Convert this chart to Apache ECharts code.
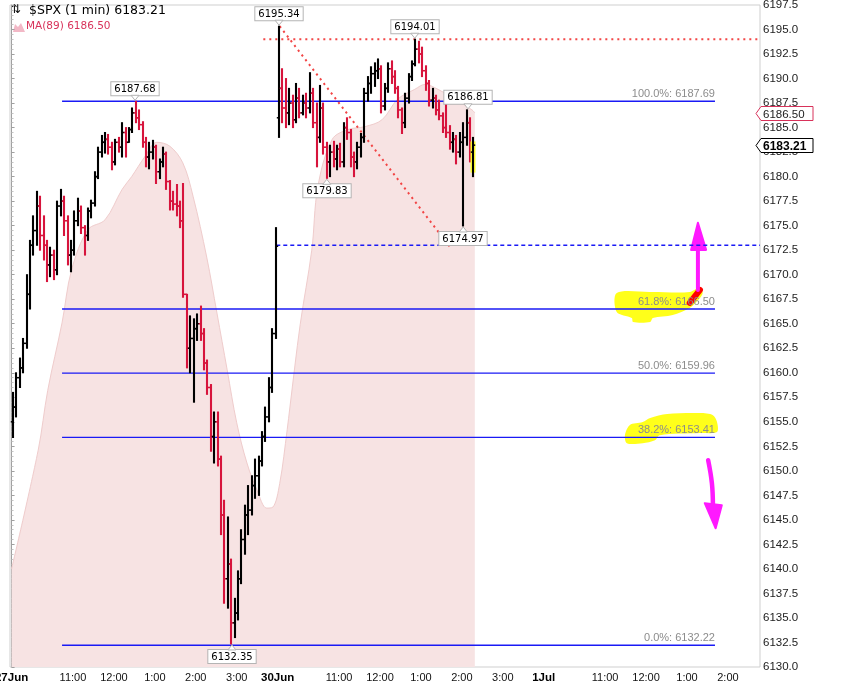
<!DOCTYPE html>
<html>
<head>
<meta charset="utf-8" />
<title>$SPX (1 min)</title>
<script src="https://cdn.jsdelivr.net/npm/echarts@6/dist/echarts.min.js"></script>
<style>
  html, body { margin: 0; padding: 0; background: #fff; }
  #main { width: 844px; height: 689px; }
</style>
</head>
<body>
<div id="main"></div>
<script>
// x is minutes since 27 Jun 9:30 (trading minutes only, 390 per day)
// bars: 5 minute OHLC, [open, high, low, close]
var jun27Start = 0;
var jun27Bars = [
  [6155, 6158, 6153.4, 6156.5], [6156.5, 6160, 6155.5, 6159.5], [6159.5, 6161.5, 6158.5, 6160.5],
  [6160.5, 6163.5, 6160, 6163], [6163, 6170, 6162.5, 6168], [6168, 6173.5, 6166.5, 6173],
  [6173, 6176, 6172, 6174.5], [6174.5, 6178.5, 6173, 6177], [6177, 6178, 6172.5, 6174],
  [6174, 6176, 6171.5, 6173], [6173, 6173.5, 6169.3, 6171], [6171, 6172.8, 6169.8, 6172],
  [6172, 6172.5, 6169.5, 6170.5], [6170.5, 6177.5, 6170, 6177], [6177, 6178.7, 6176, 6177.5],
  [6177.5, 6178, 6174, 6175.5], [6175.5, 6176, 6171, 6172], [6172, 6173.5, 6170.3, 6172.5],
  [6172.5, 6176.5, 6172, 6175.5], [6175.5, 6177.8, 6175, 6176.5], [6176.5, 6177, 6174.2, 6174.8],
  [6174.8, 6175, 6172, 6174], [6174, 6176.8, 6173.5, 6176.5], [6176.5, 6177.6, 6175.8, 6177.3],
  [6177.3, 6180.5, 6177, 6180], [6180, 6183, 6179.8, 6182.5], [6182.5, 6184.2, 6182, 6183.5],
  [6183.5, 6184.5, 6182.4, 6183.8], [6183.8, 6184.3, 6182.3, 6183], [6183, 6183.5, 6180.7, 6181.5],
  [6181.5, 6183.8, 6181.2, 6183.5], [6183.5, 6184, 6182.5, 6183], [6183, 6185.5, 6182, 6184.5],
  [6184.5, 6185, 6182, 6183.5], [6183.5, 6185, 6183.5, 6184.8], [6184.8, 6187, 6184.5, 6186.5],
  [6186.5, 6187.68, 6185.5, 6186], [6186, 6186.8, 6184.8, 6185.3], [6185.3, 6185.6, 6183, 6183.5],
  [6183.5, 6184, 6181, 6182], [6182, 6183.5, 6180.8, 6182.5], [6182.5, 6183.7, 6181.8, 6183],
  [6183, 6183.2, 6179.3, 6180.5], [6180.5, 6181.8, 6179.8, 6181.5], [6181.5, 6183, 6181, 6182.3],
  [6182.3, 6182.5, 6178.7, 6179.5], [6179.5, 6179.6, 6176.6, 6177.5], [6177.5, 6178.5, 6176.6, 6177.2],
  [6177.2, 6179.2, 6176, 6177], [6177, 6177.5, 6174.8, 6175.5], [6175.5, 6179.3, 6167.7, 6168],
  [6168, 6168, 6160.5, 6162.5], [6162.5, 6165.8, 6160, 6163.5], [6163.5, 6165.5, 6157, 6164.5],
  [6164.5, 6166, 6163.3, 6165], [6165, 6166.8, 6163.3, 6164], [6164, 6164.5, 6160.3, 6161],
  [6161, 6161.3, 6157.8, 6158.5], [6158.5, 6158.8, 6152, 6153.5], [6153.5, 6156, 6150.8, 6155],
  [6155, 6156, 6150.5, 6151.2], [6151.2, 6151.5, 6143.5, 6145.5], [6145.5, 6147, 6136.5, 6139],
  [6139, 6145.3, 6136, 6140.5], [6140.5, 6141, 6132.35, 6134.5], [6134.5, 6137, 6133, 6135.5],
  [6135.5, 6139.8, 6134.8, 6139], [6139, 6144, 6138.5, 6143], [6143, 6146.5, 6141.5, 6145.5],
  [6145.5, 6148.5, 6143.5, 6146], [6146, 6149.5, 6145.5, 6148.5], [6148.5, 6151.2, 6147.2, 6149.5],
  [6149.5, 6151.5, 6147.5, 6151], [6151, 6154, 6150.5, 6153.5], [6153.5, 6156.5, 6153, 6155.5],
  [6155.5, 6159.5, 6155, 6158.5], [6158.5, 6164.5, 6158, 6164], [6164, 6174.8, 6163.5, 6172.9]
];
var jun30Start = 390;
var jun30Bars = [
  [6186, 6195.34, 6184, 6189], [6189, 6191, 6185.5, 6187], [6187, 6190, 6185, 6186.5],
  [6186.5, 6189, 6185.3, 6187.5], [6187.5, 6188.3, 6185, 6185.8], [6185.8, 6189.5, 6185.5, 6188],
  [6188, 6189, 6186, 6186.5], [6186.5, 6188.3, 6186.3, 6187.5], [6187.5, 6188.5, 6186, 6187],
  [6187, 6190.6, 6186.5, 6188.5], [6188.5, 6189, 6185, 6185.5], [6185.5, 6187.5, 6181, 6184],
  [6184, 6189.3, 6183.5, 6187], [6187, 6187.5, 6182.3, 6183], [6183, 6183.5, 6179.83, 6181.5],
  [6181.5, 6183.2, 6180, 6182.5], [6182.5, 6183.6, 6181, 6181.8], [6181.8, 6183.2, 6180.7, 6182.8],
  [6182.8, 6183.4, 6181, 6181.5], [6181.5, 6185.5, 6181, 6185], [6185, 6186, 6183.8, 6184.5],
  [6184.5, 6184.8, 6181, 6182], [6182, 6182.5, 6180, 6181.5], [6181.5, 6183.5, 6180.8, 6183],
  [6183, 6184.4, 6182, 6184], [6184, 6189, 6183.5, 6188.5], [6188.5, 6190.2, 6187.7, 6189.5],
  [6189.5, 6191.2, 6188.5, 6190.5], [6190.5, 6191.6, 6189.2, 6190.8], [6190.8, 6192, 6190, 6191],
  [6191, 6191.3, 6186.5, 6187.2], [6187.2, 6189.5, 6186.8, 6189], [6189, 6191.6, 6188.6, 6191],
  [6191, 6191.8, 6189.5, 6190.2], [6190.2, 6190.8, 6188.5, 6189], [6189, 6189.2, 6186, 6186.8],
  [6186.8, 6187, 6184.4, 6185.5], [6185.5, 6188.5, 6185, 6188], [6188, 6190.5, 6187.5, 6190.2],
  [6190.2, 6191.8, 6189.8, 6191.5], [6191.5, 6194.01, 6191.3, 6193], [6193, 6193.8, 6191.6, 6192.5],
  [6192.5, 6193.2, 6190.2, 6190.8], [6190.8, 6191.3, 6188.8, 6189.5], [6189.5, 6189.8, 6187.2, 6187.8],
  [6187.8, 6189, 6187, 6188], [6188, 6188.3, 6186.3, 6186.8], [6186.8, 6187.8, 6185.8, 6186.2],
  [6186.2, 6186.5, 6184.5, 6185], [6185, 6187.5, 6184, 6184.5], [6184.5, 6185.2, 6182.8, 6183.5],
  [6183.5, 6184.5, 6182.5, 6183.8], [6183.8, 6184.2, 6181.3, 6182.5], [6182.5, 6184.5, 6182, 6183.5],
  [6183.5, 6185.5, 6174.97, 6184], [6184, 6186.81, 6183.2, 6185.5], [6185.5, 6186, 6181.5, 6182.5],
  [6182.5, 6184, 6180, 6183.21]
];

// MA(89)
var maMinute = [0, 39, 53, 74, 88, 112, 137, 162, 176, 195, 213, 232, 251, 266, 286, 301, 316, 330,
  345, 360, 374, 383, 393, 404, 408, 423, 440, 449, 470, 493, 518, 543, 566, 591, 606, 625, 650, 675, 679];
var maValue = [6140.0, 6152.1, 6158.2, 6165.1, 6170.5, 6174.6, 6175.6, 6178.7, 6180.0, 6182.0, 6183.5,
  6183.1, 6181.4, 6178.0, 6171.8, 6166.1, 6160.3, 6154.9, 6150.8, 6148.0, 6146.2, 6146.3, 6148.7,
  6154.2, 6156.5, 6164.9, 6172.5, 6179.0, 6183.8, 6184.8, 6185.1, 6185.8, 6187.9, 6188.9, 6189.4,
  6188.9, 6187.9, 6186.8, 6186.5];

var fibLabel = ['100.0%', '61.8%', '50.0%', '38.2%', '0.0%'];
var fibPrice = [6187.69, 6166.50, 6159.96, 6153.41, 6132.22];
var fibFrom = 74, fibTo = 1031;

var pivotMinute = [181, 392, 462, 591, 669, 662, 323];
var pivotPrice = [6187.68, 6195.34, 6179.83, 6194.01, 6186.81, 6174.97, 6132.35];
var pivotAbove = [1, 1, 0, 1, 1, 0, 0];

var xEnd = 1097;
var prevClose = 6173.0, prevCloseFrom = 388;
var highLine = 6194.01, highLineFrom = 369;
var trendFrom = [393, 6195.34], trendTo = [643, 6172.8];
var lastPrice = 6183.21, maLast = 6186.50;

var xTickMinute = [0, 90, 150, 210, 270, 330, 390, 480, 540, 600, 660, 720, 780, 870, 930, 990, 1050];
var xTickLabel = ['27Jun', '11:00', '12:00', '1:00', '2:00', '3:00', '30Jun', '11:00', '12:00', '1:00',
  '2:00', '3:00', '1Jul', '11:00', '12:00', '1:00', '2:00'];
var xTickDay = [1, 0, 0, 0, 0, 0, 1, 0, 0, 0, 0, 0, 1, 0, 0, 0, 0];

// hand drawn marks on the picture, in chart coordinates
var hiliteA = [[887, 6168.14], [936, 6168.24], [994, 6168.24], [1009, 6168.75], [1013, 6168.14],
  [1009, 6167.63], [994, 6166.61], [969, 6165.9], [940, 6165.59], [936, 6165.18], [911, 6165.18],
  [909, 6165.59], [887, 6166.2]];
var hiliteB = [[936, 6155.38], [961, 6155.79], [1009, 6155.89], [1028, 6155.68], [1034, 6154.97],
  [1034, 6153.95], [1009, 6153.85], [950, 6153.64], [943, 6153.13], [925, 6152.82], [902, 6152.82],
  [899, 6153.64], [906, 6154.66], [925, 6154.97]];
var redStroke = [[994, 6167.12], [1009, 6168.45]];
var arrowUpShaft = [[1006, 6168.45], [1006, 6172.74]];
var arrowUpHead = [[996, 6172.53], [1006, 6175.29], [1018, 6172.53]];
var arrowDownShaft = [[1021, 6151.09], [1026.5, 6148.74], [1028, 6146.49]];
var arrowDownHead = [[1016, 6146.7], [1041, 6146.49], [1032, 6144.14]];

var barData = [];
jun27Bars.forEach(function (b, i) { barData.push([jun27Start + 5 * i + 2, b[0], b[1], b[2], b[3]]); });
jun30Bars.forEach(function (b, i) { barData.push([jun30Start + 5 * i + 2, b[0], b[1], b[2], b[3]]); });
var maData = maMinute.map(function (m, i) { return [m, maValue[i]]; });

var myChart = echarts.init(document.getElementById('main'));

function renderBar(params, api) {
  var m = api.value(0), o = api.value(1), h = api.value(2), l = api.value(3), c = api.value(4);
  var pH = api.coord([m, h]), pL = api.coord([m, l]);
  var pO = api.coord([m, o]), pC = api.coord([m, c]);
  var w = 2.2;
  var col = c >= o ? '#000000' : '#d7143c';
  var x = Math.round(pH[0]);
  var kids = [];
  if (params.dataIndex === barData.length - 1) {
    // current bar is marked yellow
    kids.push({ type: 'rect', shape: { x: x - 2.5, y: pH[1] + 4, width: 5, height: pL[1] - pH[1] - 8 },
      style: { fill: '#ffff33' } });
  }
  kids.push({ type: 'line', shape: { x1: x, y1: pH[1] - 0.5, x2: x, y2: pL[1] + 0.5 }, style: { stroke: col, lineWidth: 2.1 } });
  kids.push({ type: 'line', shape: { x1: x - w, y1: pO[1], x2: x, y2: pO[1] }, style: { stroke: col, lineWidth: 1.5 } });
  kids.push({ type: 'line', shape: { x1: x, y1: pC[1], x2: x + w, y2: pC[1] }, style: { stroke: col, lineWidth: 1.5 } });
  return { type: 'group', children: kids };
}

function renderFibText(params, api) {
  var i = params.dataIndex;
  var b = api.coord([fibTo, fibPrice[i]]);
  return { type: 'text', x: b[0], y: Math.round(b[1]) - 2, style: { text: fibLabel[i] + ': ' + fibPrice[i].toFixed(2),
    align: 'right', verticalAlign: 'bottom', font: '11px "Liberation Sans"', fill: '#8c8c8c' } };
}

function renderPivot(params, api) {
  var p = api.coord([api.value(0), api.value(1)]);
  var up = api.value(2) > 0;
  var dir = up ? -1 : 1;
  var base = p[1] + dir * 6;
  return { type: 'group', children: [
    { type: 'text', x: Math.round(p[0]), y: base, style: { text: api.value(1).toFixed(2), align: 'center',
      verticalAlign: up ? 'bottom' : 'top', font: '10px "DejaVu Sans"', fill: '#000',
      backgroundColor: '#fff', borderColor: '#b4b4b4', borderWidth: 1, padding: [2, 3, 1, 3] } },
    { type: 'polygon', shape: { points: [[p[0] - 4, base], [p[0], p[1] + dir], [p[0] + 4, base]] },
      style: { fill: '#fff', stroke: '#b4b4b4', lineWidth: 1 } }
  ] };
}

function renderTag(params, api) {
  var p = api.coord([api.value(0), api.value(1)]);
  var last = api.value(2) === 1;
  var x = p[0], y = Math.round(p[1]) + 0.5;
  var col = last ? '#000' : '#d8325a';
  return { type: 'group', children: [
    { type: 'polygon', shape: { points: [[x - 4, y], [x + 1, y - 7], [x + 53, y - 7], [x + 53, y + 7], [x + 1, y + 7]] },
      style: { fill: '#fff', stroke: col, lineWidth: 1 } },
    { type: 'text', x: x + 3, y: y + 1, style: { text: api.value(1).toFixed(2), align: 'left', verticalAlign: 'middle',
      font: last ? 'bold 12px "Liberation Sans"' : '11.5px "Liberation Sans"', fill: last ? '#000' : '#222' } }
  ] };
}

function renderNotes(params, api) {
  function pts(list) { return list.map(function (d) { return api.coord(d); }); }
  return { type: 'group', children: [
    { type: 'polygon', shape: { points: pts(hiliteA), smooth: 0.3 }, style: { fill: '#ffff1a' } },
    { type: 'polygon', shape: { points: pts(hiliteB), smooth: 0.3 }, style: { fill: '#ffff1a' } },
    { type: 'polyline', shape: { points: pts(redStroke) }, style: { stroke: '#ff0000', lineWidth: 6, lineCap: 'round', fill: null } },
    { type: 'polyline', shape: { points: pts(arrowUpShaft) }, style: { stroke: '#ff19ff', lineWidth: 4, lineCap: 'round', fill: null } },
    { type: 'polygon', shape: { points: pts(arrowUpHead) }, style: { fill: '#ff19ff', stroke: '#ff19ff', lineWidth: 2, lineJoin: 'round' } },
    { type: 'polyline', shape: { points: pts(arrowDownShaft), smooth: 0.4 }, style: { stroke: '#ff19ff', lineWidth: 4.5, lineCap: 'round', fill: null } },
    { type: 'polygon', shape: { points: pts(arrowDownHead) }, style: { fill: '#ff19ff', stroke: '#ff19ff', lineWidth: 2, lineJoin: 'round' } }
  ] };
}

function plainLine(name, data, color, width, type) {
  return { name: name, type: 'line', data: data, showSymbol: false, silent: true, z: 3,
    lineStyle: { color: color, width: width, type: type }, itemStyle: { color: color } };
}

var series = [
  { name: 'MA(89)', type: 'line', data: maData, smooth: 0.35, showSymbol: false, z: 1, silent: true,
    lineStyle: { color: '#efcccc', width: 1 },
    areaStyle: { color: '#f7e3e3', opacity: 1, origin: 'start' } },
  { name: 'notes', type: 'custom', renderItem: renderNotes, data: [[1000, 6160]], z: 2, silent: true }
];
fibPrice.forEach(function (p, i) {
  series.push(plainLine(fibLabel[i], [[fibFrom, p], [fibTo, p]], '#1a1af5', 1.4, 'solid'));
});
series.push(plainLine('high', [[highLineFrom, highLine], [xEnd, highLine]], '#f24545', 2, [2, 4]));
series.push(plainLine('trend', [trendFrom, trendTo], '#f24545', 2, [2, 4]));
series.push(plainLine('prev close', [[prevCloseFrom, prevClose], [xEnd, prevClose]], '#1a1af5', 1.4, [4, 3]));
series.push({ name: 'fib text', type: 'custom', renderItem: renderFibText, z: 3, silent: true,
  data: fibPrice.map(function (p) { return [fibTo, p]; }) });
series.push({ name: '$SPX', type: 'custom', renderItem: renderBar, data: barData, z: 4,
  encode: { x: 0, y: [1, 2, 3, 4] } });
series.push({ name: 'pivots', type: 'custom', renderItem: renderPivot, z: 5, silent: true,
  data: pivotMinute.map(function (m, i) { return [m, pivotPrice[i], pivotAbove[i]]; }) });
series.push({ name: 'tags', type: 'custom', renderItem: renderTag, z: 6, silent: true,
  data: [[xEnd, maLast, 0], [xEnd, lastPrice, 1]] });

var option = {
  animation: false,
  backgroundColor: '#fff',
  grid: { left: 10, right: 84, top: 5, bottom: 22, show: true, borderColor: '#cfcfcf', borderWidth: 1,
    containLabel: false, outerBoundsMode: 'none' },
  graphic: [
    { type: 'text', left: 11, top: 4, style: { text: '\u21c5', font: '12px "DejaVu Sans"', fill: '#000' } },
    { type: 'text', left: 29, top: 4, style: { text: '$SPX (1 min) ' + lastPrice.toFixed(2), font: '12.5px "DejaVu Sans"', fill: '#000' } },
    { type: 'polygon', shape: { points: [[13, 32], [15, 24], [18, 27], [21, 23], [25, 32]] }, style: { fill: '#f2b8c6' } },
    { type: 'text', left: 26, top: 21, style: { text: 'MA(89) ' + maLast.toFixed(2), font: '10.5px "DejaVu Sans"', fill: '#d8325a' } }
  ],
  xAxis: {
    type: 'value', min: -2.3, max: xEnd,
    axisLine: { show: false }, axisTick: { show: false }, splitLine: { show: false },
    axisLabel: {
      customValues: xTickMinute, margin: 5,
      fontFamily: 'Liberation Sans', fontSize: 11, color: '#111',
      formatter: function (v) {
        var i = xTickMinute.indexOf(v);
        return xTickDay[i] ? '{d|' + xTickLabel[i] + '}' : xTickLabel[i];
      },
      rich: { d: { fontFamily: 'Liberation Sans', fontSize: 11.5, fontWeight: 'bold', color: '#000' } }
    }
  },
  yAxis: {
    type: 'value', position: 'right', min: 6130, max: 6197.5, interval: 2.5,
    axisLine: { show: true, lineStyle: { color: '#a0a0a0' } },
    axisTick: { show: true, length: 3, lineStyle: { color: '#a0a0a0' } },
    minorTick: { show: true, splitNumber: 5, length: 2, lineStyle: { color: '#c4c4c4' } },
    splitLine: { show: false },
    axisLabel: { margin: 3, fontFamily: 'Liberation Sans', fontSize: 11.5, color: '#222',
      formatter: function (v) { return v.toFixed(1); } }
  },
  series: series
};
myChart.setOption(option);
</script>
</body>
</html>
